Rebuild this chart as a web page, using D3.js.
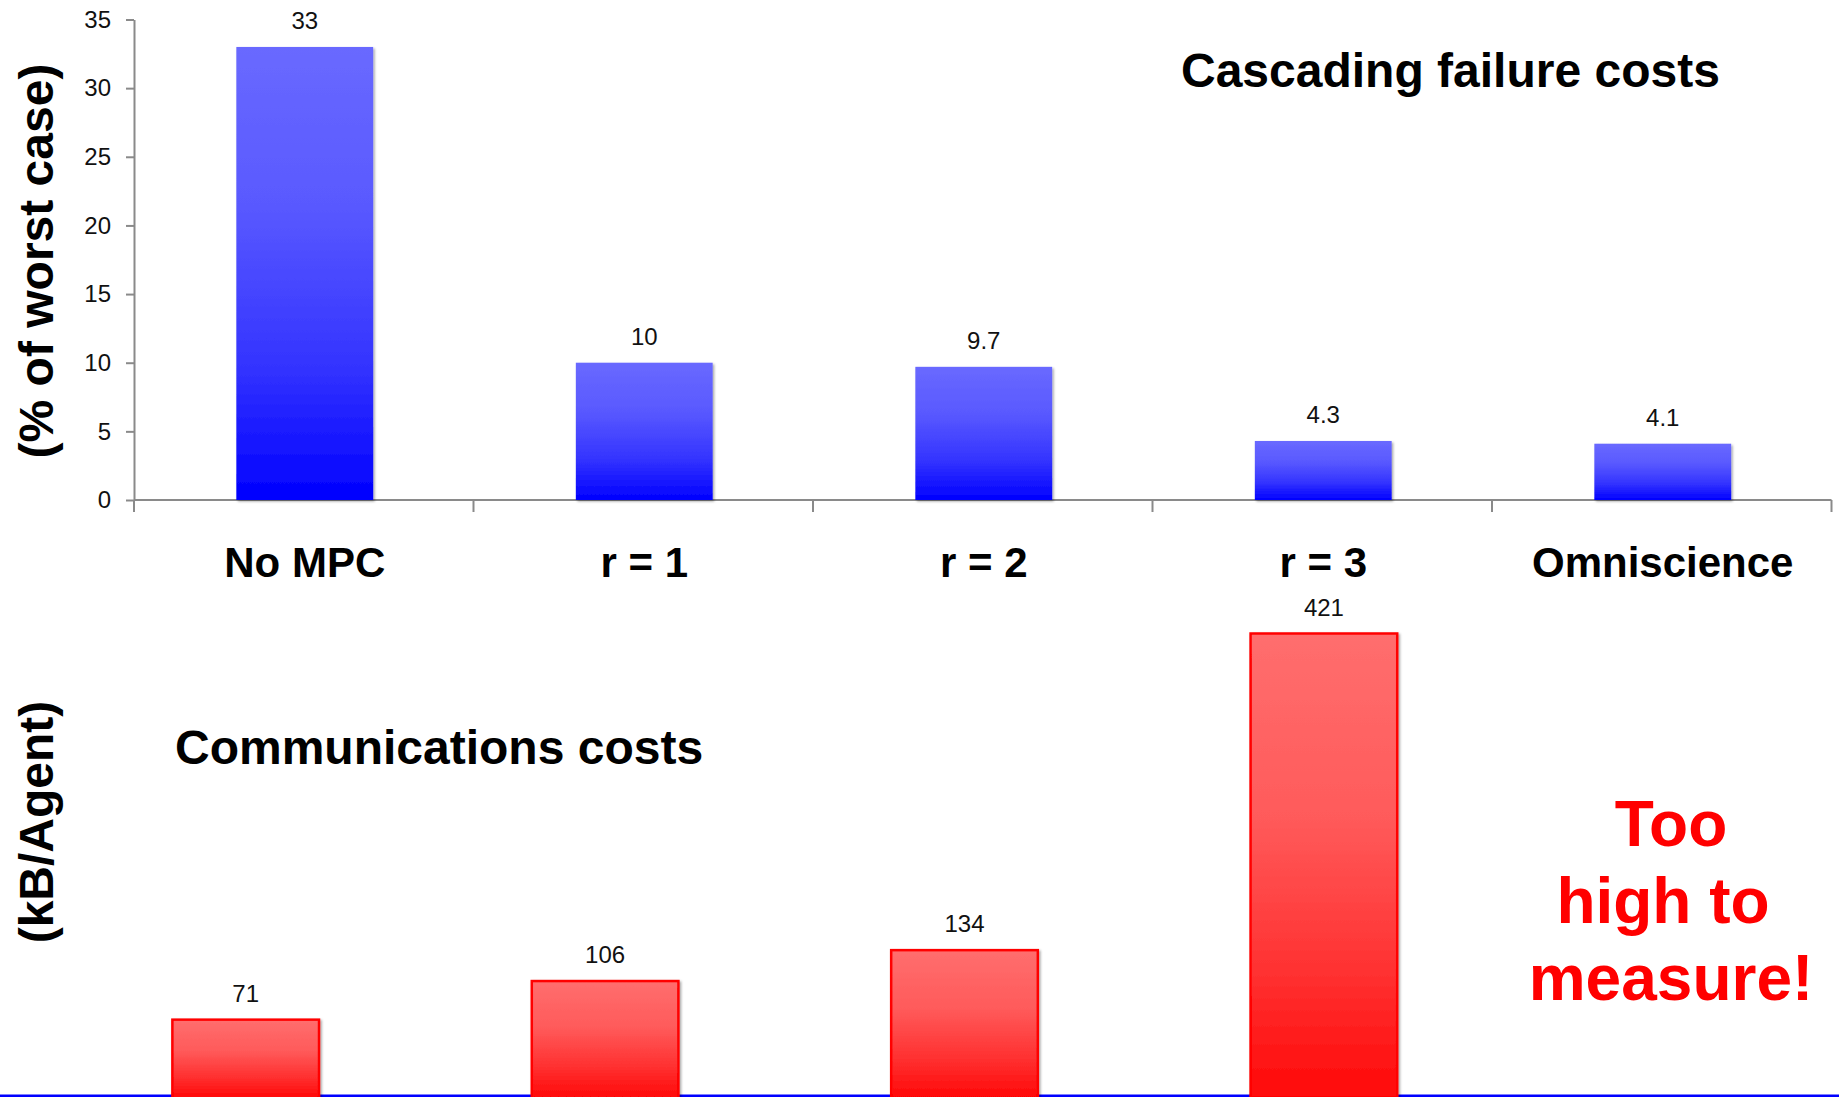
<!DOCTYPE html>
<html>
<head>
<meta charset="utf-8">
<script src="https://cdn.jsdelivr.net/npm/d3@7"></script>
<style>
  html, body { margin: 0; padding: 0; background: #fff; }
  svg { display: block; font-family: "Liberation Sans", Arial, Helvetica, sans-serif; }
</style>
</head>
<body>
<svg id="chart" width="1839" height="1097"></svg>
<script>
// Categories shared by both panels
const categories = ["No MPC", "r = 1", "r = 2", "r = 3", "Omniscience"];
// Cascading failure cost, % of worst case
const failureCost = [33, 10, 9.7, 4.3, 4.1];
// Communications cost, kB per agent (last one could not be measured)
const commCost = [71, 106, 134, 421, null];
// Y axis ticks of the failure panel
const failureTicks = [0, 5, 10, 15, 20, 25, 30, 35];
// Note written where the missing bar would be
const noteLines = ["Too", "high to", "measure!"];

const svg = d3.select("#chart");
const defs = svg.append("defs");

// Gradients and soft shadow for the bars
const blueGrad = defs.append("linearGradient").attr("id", "blueGrad")
  .attr("x1", 0).attr("y1", 0).attr("x2", 0).attr("y2", 1);
[[0, "#6969ff"], [0.35, "#5959ff"], [0.7, "#3434ff"], [1, "#0000ff"]]
  .forEach(([o, c]) => blueGrad.append("stop").attr("offset", o).attr("stop-color", c));

const redGrad = defs.append("linearGradient").attr("id", "redGrad")
  .attr("x1", 0).attr("y1", 0).attr("x2", 0).attr("y2", 1);
[[0, "#ff6e6e"], [0.4, "#ff5a5a"], [0.75, "#ff2e2e"], [1, "#ff0808"]]
  .forEach(([o, c]) => redGrad.append("stop").attr("offset", o).attr("stop-color", c));

const shadow = defs.append("filter").attr("id", "shadow")
  .attr("x", "-10%").attr("y", "-10%").attr("width", "120%").attr("height", "120%");
shadow.append("feDropShadow").attr("dx", 1.5).attr("dy", 1.5)
  .attr("stdDeviation", 1.2).attr("flood-color", "#000").attr("flood-opacity", 0.35);

const axisColor = "#8a8a8a";
const barFrac = 0.403;
const labelSize = 24;

// ---------- Top panel: cascading failure costs ----------
const xTop = d3.scaleBand().domain(categories).range([134, 1831.5]);
const yTop = d3.scaleLinear().domain([0, 35]).range([500, 19.5]);
const bwTop = xTop.bandwidth();

const yAxis = svg.append("g").attr("transform", "translate(134,0)")
  .call(d3.axisLeft(yTop).tickValues(failureTicks).tickSize(8).tickSizeOuter(0).tickPadding(15));
yAxis.select(".domain").attr("stroke", axisColor).attr("stroke-width", 2);
yAxis.selectAll(".tick line").attr("stroke", axisColor).attr("stroke-width", 2);
yAxis.selectAll(".tick text").attr("font-size", labelSize).attr("fill", "#111")
  .attr("font-family", "'Liberation Sans', Arial, sans-serif");

// category axis: line with ticks at band boundaries
const gx = svg.append("g");
gx.append("line").attr("x1", 134).attr("x2", xTop.range()[1])
  .attr("y1", yTop(0)).attr("y2", yTop(0))
  .attr("stroke", axisColor).attr("stroke-width", 2);
gx.selectAll("line.tk")
  .data(categories.map(c => xTop(c)).concat([xTop.range()[1]]))
  .join("line").attr("class", "tk")
  .attr("x1", d => d).attr("x2", d => d)
  .attr("y1", yTop(0)).attr("y2", yTop(0) + 12)
  .attr("stroke", axisColor).attr("stroke-width", 2);

svg.append("g").selectAll("rect")
  .data(categories.map((c, i) => ({ c, v: failureCost[i] })))
  .join("rect")
  .attr("x", d => xTop(d.c) + bwTop * (1 - barFrac) / 2 + 1)
  .attr("width", bwTop * barFrac)
  .attr("y", d => yTop(d.v))
  .attr("height", d => yTop(0) - yTop(d.v))
  .attr("fill", "url(#blueGrad)")
  .attr("filter", "url(#shadow)");

svg.append("g").selectAll("text")
  .data(categories.map((c, i) => ({ c, v: failureCost[i] })))
  .join("text")
  .attr("x", d => xTop(d.c) + bwTop / 2 + 1)
  .attr("y", d => yTop(d.v) - 18)
  .attr("text-anchor", "middle").attr("font-size", labelSize).attr("fill", "#111")
  .text(d => d.v);

svg.append("g").selectAll("text")
  .data(categories)
  .join("text")
  .attr("x", d => xTop(d) + bwTop / 2 + 1)
  .attr("y", 577)
  .attr("text-anchor", "middle").attr("font-size", 42).attr("font-weight", "bold")
  .attr("fill", "#000")
  .text(d => d);

svg.append("text").attr("x", 1181).attr("y", 87)
  .attr("font-size", 48).attr("font-weight", "bold").attr("fill", "#000")
  .text("Cascading failure costs");

svg.append("text").attr("transform", "translate(53,261) rotate(-90)")
  .attr("text-anchor", "middle").attr("font-size", 48).attr("font-weight", "bold")
  .attr("fill", "#000")
  .text("(% of worst case)");

// ---------- Bottom panel: communications costs ----------
const xBot = d3.scaleBand().domain(categories).range([66, 1863]);
const yBot = d3.scaleLinear().domain([0, 421]).range([1098, 633.5]);
const bwBot = xBot.bandwidth();

svg.append("line").attr("x1", 0).attr("x2", 1839)
  .attr("y1", 1096).attr("y2", 1096)
  .attr("stroke", "#0000ff").attr("stroke-width", 3);

const commData = categories.map((c, i) => ({ c, v: commCost[i] })).filter(d => d.v != null);

svg.append("g").selectAll("rect")
  .data(commData)
  .join("rect")
  .attr("x", d => xBot(d.c) + bwBot * (1 - 0.408) / 2)
  .attr("width", bwBot * 0.408)
  .attr("y", d => yBot(d.v))
  .attr("height", d => yBot(0) - yBot(d.v))
  .attr("fill", "url(#redGrad)")
  .attr("stroke", "#ff0000").attr("stroke-width", 2.5)
  .attr("filter", "url(#shadow)");

svg.append("g").selectAll("text")
  .data(commData)
  .join("text")
  .attr("x", d => xBot(d.c) + bwBot / 2)
  .attr("y", d => yBot(d.v) - 18)
  .attr("text-anchor", "middle").attr("font-size", labelSize).attr("fill", "#111")
  .text(d => d.v);

svg.append("text").attr("x", 175).attr("y", 764)
  .attr("font-size", 48).attr("font-weight", "bold").attr("fill", "#000")
  .text("Communications costs");

svg.append("text").attr("transform", "translate(53,822) rotate(-90)")
  .attr("text-anchor", "middle").attr("font-size", 48).attr("font-weight", "bold")
  .attr("fill", "#000")
  .text("(kB/Agent)");

svg.append("g").selectAll("text")
  .data(noteLines)
  .join("text")
  .attr("x", (d, i) => i === 1 ? 1663 : 1671)
  .attr("y", (d, i) => 846 + i * 77)
  .attr("text-anchor", "middle").attr("font-size", 64).attr("font-weight", "bold")
  .attr("fill", "#ff0000")
  .text(d => d);
</script>
</body>
</html>
